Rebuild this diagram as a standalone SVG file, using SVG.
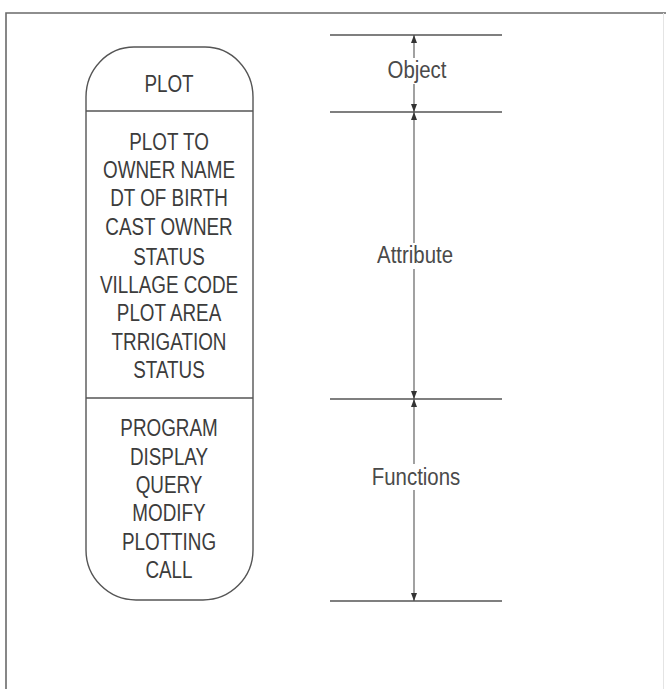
<svg xmlns="http://www.w3.org/2000/svg" width="666" height="689" viewBox="0 0 666 689">
<style>
.frame{fill:none;stroke:#6a6a6a;stroke-width:1.6}
.shape{fill:#fff;stroke:#555;stroke-width:1.4}
.div{stroke:#555;stroke-width:1.4}
.t{font-family:"Liberation Sans",Arial,sans-serif;font-size:23px;fill:#3c3c3c;text-anchor:middle}
.lbl{font-family:"Liberation Sans",Arial,sans-serif;font-size:24px;fill:#4a4a4a;text-anchor:middle}
.ext{stroke:#555;stroke-width:1.4}
.dim{stroke:#555;stroke-width:1.1;fill:none;marker-start:url(#ah);marker-end:url(#ah)}
</style>
<defs>
<marker id="ah" viewBox="0 0 8 6" refX="8" refY="3" markerWidth="8" markerHeight="6" markerUnits="userSpaceOnUse" orient="auto-start-reverse">
<path d="M0,0 L8,3 L0,6 z" fill="#333"/>
</marker>
</defs>
<rect width="666" height="689" fill="#fff"/>
<g id="frame">
<path class="frame" d="M6,689 V13 H666"/>
<line x1="663.5" y1="13" x2="663.5" y2="689" stroke="#e4e4e4" stroke-width="1"/>
</g>
<g id="plot-class">
<path class="shape" d="M134,47 H205 A48,50 0 0 1 253,97 V550 A50,50 0 0 1 203,600 H136 A50,50 0 0 1 86,550 V97 A48,50 0 0 1 134,47 Z"/>
<line class="div" x1="86" y1="111" x2="253" y2="111"/>
<line class="div" x1="86" y1="398" x2="253" y2="398"/>
<g transform="translate(169,0) scale(0.82,1)">
<text class="t" x="0" y="92">PLOT</text>
<text class="t" x="0" y="150">PLOT TO</text>
<text class="t" x="0" y="178">OWNER NAME</text>
<text class="t" x="0" y="206">DT OF BIRTH</text>
<text class="t" x="0" y="235">CAST OWNER</text>
<text class="t" x="0" y="265">STATUS</text>
<text class="t" x="0" y="293">VILLAGE CODE</text>
<text class="t" x="0" y="321">PLOT AREA</text>
<text class="t" x="0" y="350">TRRIGATION</text>
<text class="t" x="0" y="378">STATUS</text>
<text class="t" x="0" y="436">PROGRAM</text>
<text class="t" x="0" y="465">DISPLAY</text>
<text class="t" x="0" y="493">QUERY</text>
<text class="t" x="0" y="521">MODIFY</text>
<text class="t" x="0" y="550">PLOTTING</text>
<text class="t" x="0" y="578">CALL</text>
</g>
</g>
<g id="connectors">
<line class="ext" x1="330" y1="35" x2="502" y2="35"/>
<line class="ext" x1="330" y1="112" x2="502" y2="112"/>
<line class="ext" x1="330" y1="399" x2="502" y2="399"/>
<line class="ext" x1="330" y1="601" x2="502" y2="601"/>
<line class="dim" x1="414" y1="35" x2="414" y2="112" stroke="#888"/>
<line class="dim" x1="414" y1="112" x2="414" y2="399"/>
<line class="dim" x1="414" y1="399" x2="414" y2="601"/>
</g>
<g id="label-object">
<rect x="386" y="58" width="62" height="26" fill="#fff"/>
<text class="lbl" transform="translate(417,78) scale(0.85,1)" x="0" y="0">Object</text>
</g>
<g id="label-attribute">
<rect x="370" y="243" width="90" height="26" fill="#fff"/>
<text class="lbl" transform="translate(415,263) scale(0.85,1)" x="0" y="0">Attribute</text>
</g>
<g id="label-functions">
<rect x="370" y="464" width="92" height="26" fill="#fff"/>
<text class="lbl" transform="translate(416,485) scale(0.85,1)" x="0" y="0">Functions</text>
</g>
</svg>
